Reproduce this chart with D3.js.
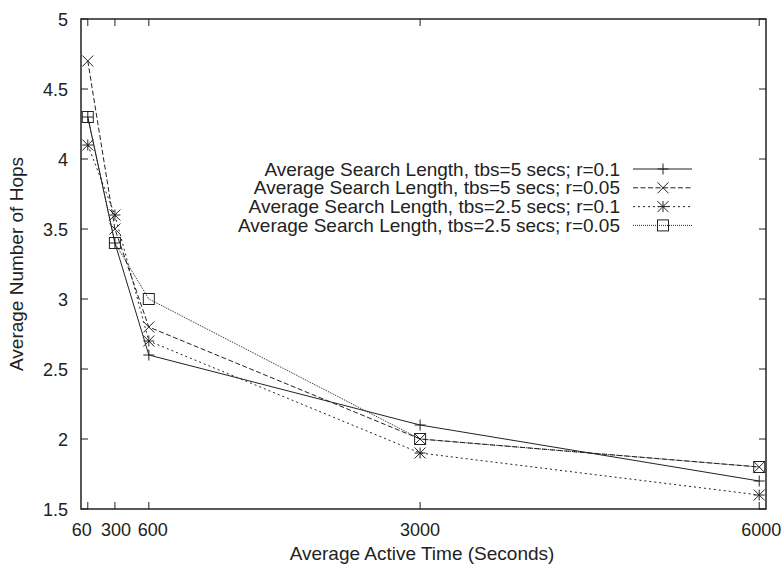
<!DOCTYPE html>
<html>
<head>
<meta charset="utf-8">
<script src="https://cdn.jsdelivr.net/npm/d3@7"></script>
<style>
  body { margin: 0; background: #fff; }
  text { font-family: "Liberation Sans", Arial, sans-serif; fill: #222; font-size: 19px; }
</style>
</head>
<body>
<script>
// data
const times = [60, 300, 600, 3000, 6000];
const tbs5r01 = [4.3, 3.4, 2.6, 2.1, 1.7];
const tbs5r005 = [4.7, 3.5, 2.8, 2.0, 1.8];
const tbs25r01 = [4.1, 3.6, 2.7, 1.9, 1.6];
const tbs25r005 = [4.3, 3.4, 3.0, 2.0, 1.8];
const seriesNames = [
  "Average Search Length, tbs=5 secs; r=0.1",
  "Average Search Length, tbs=5 secs; r=0.05",
  "Average Search Length, tbs=2.5 secs; r=0.1",
  "Average Search Length, tbs=2.5 secs; r=0.05"
];
const xTicks = [60, 300, 600, 3000, 6000];
const yTicks = [1.5, 2, 2.5, 3, 3.5, 4, 4.5, 5];

const ScatterLines = () => {
  var w = 784;
  var h = 568;
  var pLeft = 81, pRight = 766, pTop = 19, pBottom = 509;

  var xScale = d3.scaleLinear().domain([0, 6060]).range([pLeft, pRight]);
  var yScale = d3.scaleLinear().domain([1.5, 5]).range([pBottom, pTop]);

  var svg = d3.select("body").append("svg").attr("width", w).attr("height", h);

  var styles = [
    { dash: null, marker: "plus" },
    { dash: "5,2.5", marker: "cross" },
    { dash: "2,3", marker: "star" },
    { dash: "1,1", marker: "square" }
  ];
  var allSeries = [tbs5r01, tbs5r005, tbs25r01, tbs25r005];

  //ticks, inward and mirrored
  var tk = 7;
  var g = svg.append("g").attr("stroke", "#222").attr("stroke-width", 1);
  xTicks.forEach(function (t) {
    g.append("line").attr("x1", xScale(t)).attr("x2", xScale(t)).attr("y1", pBottom).attr("y2", pBottom - tk);
    g.append("line").attr("x1", xScale(t)).attr("x2", xScale(t)).attr("y1", pTop).attr("y2", pTop + tk);
  });
  yTicks.forEach(function (t) {
    g.append("line").attr("x1", pLeft).attr("x2", pLeft + tk).attr("y1", yScale(t)).attr("y2", yScale(t));
    g.append("line").attr("x1", pRight).attr("x2", pRight - tk).attr("y1", yScale(t)).attr("y2", yScale(t));
  });

  // the crowded labels at the left are spread a little, like in the original
  var nudge = { 60: -6, 300: 1, 600: 4, 3000: 0, 6000: 2 };
  svg.selectAll(".xl").data(xTicks).enter().append("text")
    .attr("x", function (d) { return xScale(d) + nudge[d]; })
    .attr("y", 536)
    .attr("text-anchor", "middle")
    .style("font-size", "18px")
    .text(function (d) { return d; });

  svg.selectAll(".yl").data(yTicks).enter().append("text")
    .attr("x", 68)
    .attr("y", function (d) { return yScale(d) + 6.5; })
    .attr("text-anchor", "end")
    .style("font-size", "18px")
    .text(function (d) { return d; });

  svg.append("text").attr("x", 422).attr("y", 560).attr("text-anchor", "middle")
    .text("Average Active Time (Seconds)");
  svg.append("text").attr("transform", "translate(23,264) rotate(-90)").attr("text-anchor", "middle")
    .text("Average Number of Hops");

  function drawMarker(sel, type, x, y) {
    var s = 5.5;
    var m = sel.append("g").attr("transform", "translate(" + x + "," + y + ")")
      .attr("stroke", "#222").attr("stroke-width", 1).attr("fill", "none");
    if (type === "plus" || type === "star") {
      m.append("line").attr("x1", -s).attr("x2", s).attr("y1", 0).attr("y2", 0);
      m.append("line").attr("x1", 0).attr("x2", 0).attr("y1", -s).attr("y2", s);
    }
    if (type === "cross" || type === "star") {
      m.append("line").attr("x1", -s).attr("x2", s).attr("y1", -s).attr("y2", s);
      m.append("line").attr("x1", -s).attr("x2", s).attr("y1", s).attr("y2", -s);
    }
    if (type === "square") {
      m.append("rect").attr("x", -s).attr("y", -s).attr("width", 2 * s).attr("height", 2 * s);
    }
  }

  var line = d3.line()
    .x(function (d, i) { return xScale(times[i]); })
    .y(function (d) { return yScale(d); });

  allSeries.forEach(function (vals, k) {
    svg.append("path").datum(vals)
      .attr("d", line)
      .attr("fill", "none")
      .attr("stroke", "#222")
      .attr("stroke-width", 1)
      .attr("stroke-dasharray", styles[k].dash);
    vals.forEach(function (v, i) {
      drawMarker(svg, styles[k].marker, xScale(times[i]), yScale(v));
    });
  });

  //legend
  seriesNames.forEach(function (name, k) {
    var ly = 169 + k * 18.8;
    svg.append("text").attr("x", 620).attr("y", ly + 6.5).attr("text-anchor", "end").text(name);
    svg.append("line").attr("x1", 633).attr("x2", 692).attr("y1", ly).attr("y2", ly)
      .attr("stroke", "#222").attr("stroke-width", 1)
      .attr("stroke-dasharray", styles[k].dash);
    drawMarker(svg, styles[k].marker, 663, ly);
  });

  //frame
  svg.append("rect").attr("x", pLeft).attr("y", pTop)
    .attr("width", pRight - pLeft).attr("height", pBottom - pTop)
    .attr("fill", "none").attr("stroke", "#222").attr("stroke-width", 1.5);
};

ScatterLines();
</script>
</body>
</html>
